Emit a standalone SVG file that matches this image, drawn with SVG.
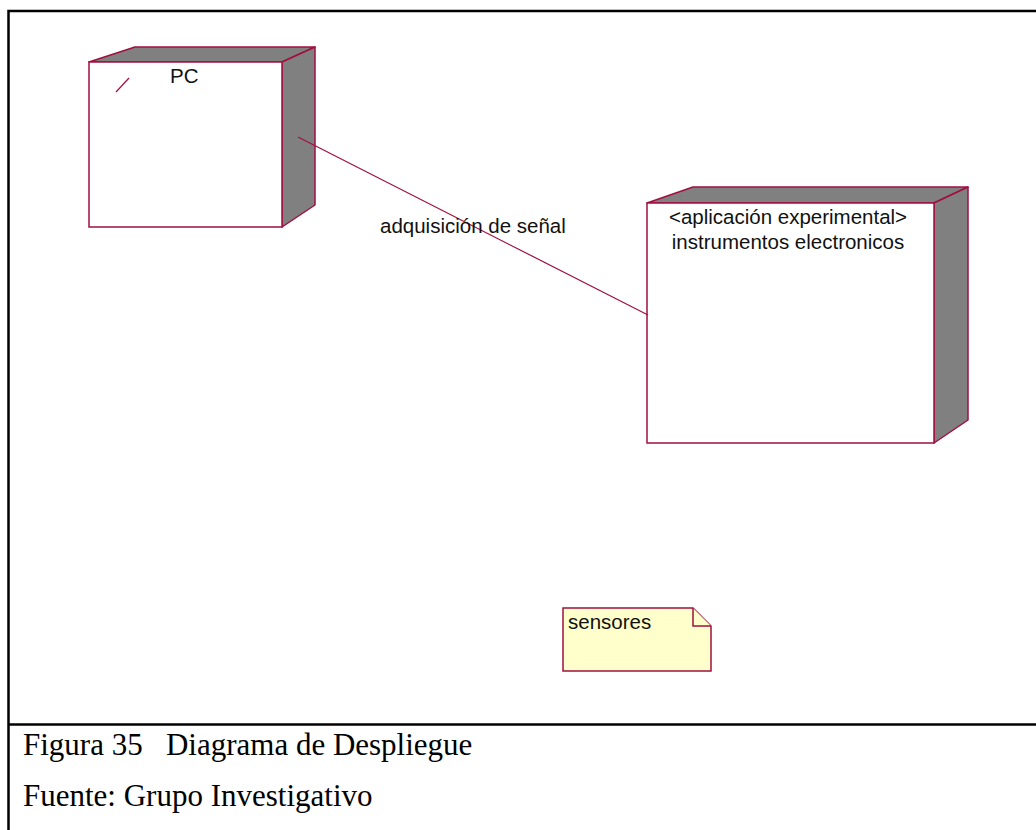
<svg xmlns="http://www.w3.org/2000/svg" width="1036" height="830" viewBox="0 0 1036 830">
<style>
.frame{fill:none;stroke:#000;stroke-width:2.5}
.front{fill:#fff;stroke:#a0103f;stroke-width:1.5}
.side{fill:#808080;stroke:#a0103f;stroke-width:1.5;stroke-linejoin:round}
.conn{stroke:#a0103f;stroke-width:1.2;fill:none}
.lbl{font-family:"Liberation Sans",Arial,sans-serif;font-size:20.5px;fill:#111}
.cap{font-family:"Liberation Serif","Times New Roman",serif;font-size:31px;fill:#000}
.note{fill:#ffffcc;stroke:#a0103f;stroke-width:1.5}
</style>
<rect width="1036" height="830" fill="#fff"/>
<g id="frame">
<path class="frame" d="M8.5,830 V11 H1040"/>
<line class="frame" x1="8" y1="724.5" x2="1040" y2="724.5"/>
</g>
<g id="node-pc">
<polygon class="side" points="89,62 135,47 315,47 282,62"/>
<polygon class="side" points="282,62 315,47 315,205 282,227"/>
<rect class="front" x="89" y="62" width="193" height="165"/>
<line class="conn" x1="116" y1="92" x2="129" y2="78"/>
<text class="lbl" x="170" y="83">PC</text>
</g>
<g id="node-instrumentos">
<polygon class="side" points="647,203 693,187 968,187 934,203"/>
<polygon class="side" points="934,203 968,187 968,420 934,443"/>
<rect class="front" x="647" y="203" width="287" height="240"/>
<text class="lbl" x="788" y="224" text-anchor="middle">&lt;aplicación experimental&gt;</text>
<text class="lbl" x="788" y="249" text-anchor="middle">instrumentos electronicos</text>
</g>
<g id="note-sensores">
<path class="note" d="M563,608 H693 L711,626 V671 H563 Z"/>
<path class="note" d="M693,608 V626 H711"/>
<text class="lbl" x="568" y="629">sensores</text>
</g>
<g id="connectors">
<line class="conn" x1="298" y1="137" x2="648" y2="315"/>
<text class="lbl" x="380" y="233">adquisición de señal</text>
</g>
<g id="caption">
<text class="cap" x="23" y="755" xml:space="preserve">Figura 35   Diagrama de Despliegue</text>
<text class="cap" x="23" y="806">Fuente: Grupo Investigativo</text>
</g>
</svg>
